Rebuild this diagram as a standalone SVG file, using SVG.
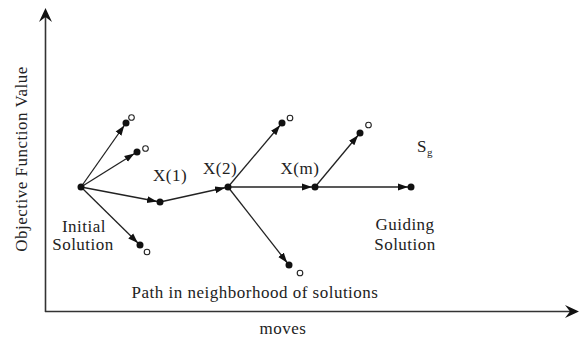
<svg xmlns="http://www.w3.org/2000/svg" width="582" height="338" viewBox="0 0 582 338">
<style>
text{font-family:"Liberation Serif","Times New Roman",serif;font-size:17px;letter-spacing:0.5px;fill:#222}
.c line{stroke:#222;stroke-width:1.3;marker-end:url(#ah)}
.dot{fill:#111}
.open{fill:#fff;stroke:#222;stroke-width:1.1}
.axis{stroke:#333;stroke-width:1.6;fill:none}
</style>
<defs>
<marker id="ah" markerUnits="userSpaceOnUse" markerWidth="16" markerHeight="8" refX="13" refY="4" orient="auto">
<path d="M0,0.5 L10,4 L0,7.5 z" fill="#111"/>
</marker>
</defs>
<g id="axes">
<line class="axis" x1="45.5" y1="312" x2="45.5" y2="12"/>
<path d="M45.5,8 L52,22 L45.5,17 L39,22 z" fill="#111"/>
<line class="axis" x1="45" y1="311.5" x2="574" y2="311.5"/>
<path d="M579,311.5 L565,318 L570,311.5 L565,305 z" fill="#111"/>
<text x="283" y="334" text-anchor="middle">moves</text>
<text transform="translate(27,159) rotate(-90)" text-anchor="middle">Objective Function Value</text>
</g>
<g class="c" id="connectors">
<line x1="81" y1="187" x2="126" y2="123"/>
<line x1="81" y1="187" x2="137" y2="152"/>
<line x1="81" y1="187" x2="160" y2="202"/>
<line x1="81" y1="187" x2="140" y2="245"/>
<line x1="160" y1="202" x2="228" y2="187"/>
<line x1="228" y1="187" x2="282" y2="123"/>
<line x1="228" y1="187" x2="315" y2="187"/>
<line x1="228" y1="187" x2="289" y2="265"/>
<line x1="315" y1="187" x2="360" y2="133"/>
<line x1="315" y1="187" x2="411" y2="187"/>
</g>
<g id="initial">
<circle class="dot" cx="81" cy="187" r="3.5"/>
<text x="84" y="232" text-anchor="middle">Initial</text>
<text x="83" y="250" text-anchor="middle">Solution</text>
</g>
<g id="n1a"><circle class="dot" cx="126" cy="123" r="3.5"/><circle class="open" cx="131.5" cy="117.5" r="2.8"/></g>
<g id="n1b"><circle class="dot" cx="137" cy="152" r="3.5"/><circle class="open" cx="145.5" cy="148.5" r="2.8"/></g>
<g id="n1d"><circle class="dot" cx="140" cy="245" r="3.5"/><circle class="open" cx="147" cy="252" r="2.8"/></g>
<g id="x1"><circle class="dot" cx="160" cy="202" r="3.5"/><text x="170" y="181" text-anchor="middle">X(1)</text></g>
<g id="x2"><circle class="dot" cx="228" cy="187" r="3.5"/><text x="220" y="174" text-anchor="middle">X(2)</text></g>
<g id="n2a"><circle class="dot" cx="282" cy="123" r="3.5"/><circle class="open" cx="290" cy="118" r="2.8"/></g>
<g id="n2d"><circle class="dot" cx="289" cy="265" r="3.5"/><circle class="open" cx="300" cy="273" r="2.8"/></g>
<g id="xm"><circle class="dot" cx="315" cy="187" r="3.5"/><text x="300" y="174" text-anchor="middle">X(m)</text></g>
<g id="nma"><circle class="dot" cx="360" cy="133" r="3.5"/><circle class="open" cx="368.5" cy="125" r="2.8"/></g>
<g id="guide">
<circle class="dot" cx="411" cy="187" r="3.5"/>
<text x="417" y="152">S<tspan font-size="11" dy="4">g</tspan></text>
<text x="405" y="230" text-anchor="middle">Guiding</text>
<text x="405" y="250" text-anchor="middle">Solution</text>
</g>
<g id="pathlabel"><text x="255" y="298" text-anchor="middle">Path in neighborhood of solutions</text></g>
</svg>
